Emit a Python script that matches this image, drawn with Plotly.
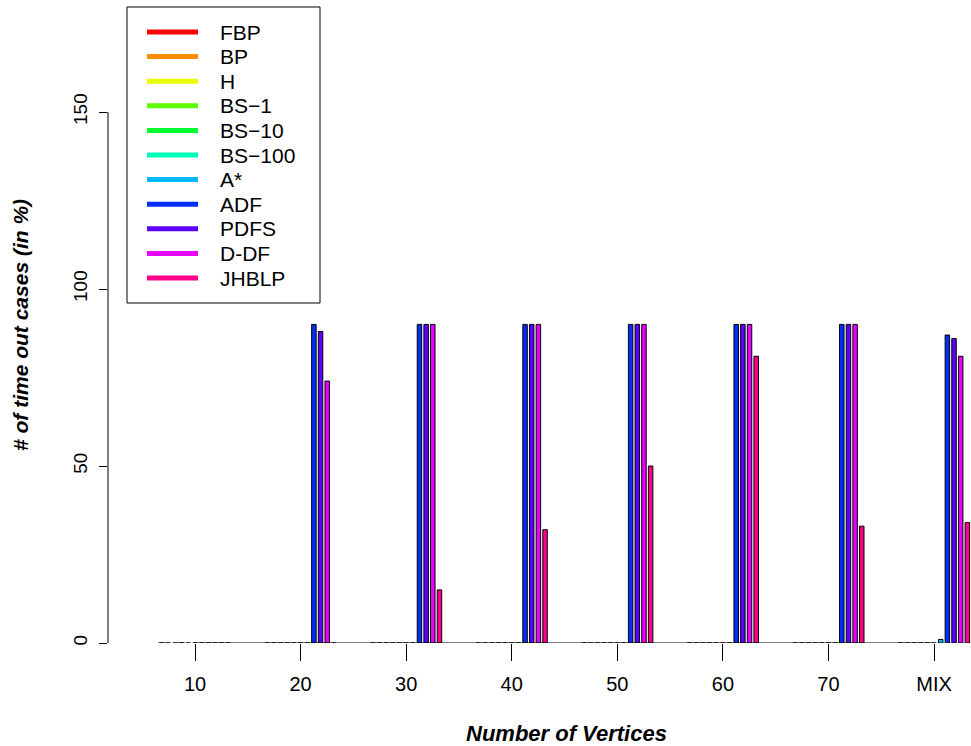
import plotly.graph_objects as go

categories = ["10", "20", "30", "40", "50", "60", "70", "MIX"]
series_names = ["FBP", "BP", "H", "BS−1", "BS−10", "BS−100", "A*", "ADF", "PDFS", "D-DF", "JHBLP"]
series_colors = ["#FF0000", "#FF8B00", "#E8FF00", "#5DFF00", "#00FF2E", "#00FFB9",
                 "#00B9FF", "#002EFF", "#5D00FF", "#E800FF", "#FF008B"]

FBP = [0, 0, 0, 0, 0, 0, 0, 0]
BP = [0, 0, 0, 0, 0, 0, 0, 0]
H = [0, 0, 0, 0, 0, 0, 0, 0]
BS1 = [0, 0, 0, 0, 0, 0, 0, 0]
BS10 = [0, 0, 0, 0, 0, 0, 0, 0]
BS100 = [0, 0, 0, 0, 0, 0, 0, 0]
ASTAR = [0, 0, 0, 0, 0, 0, 0, 1]
ADF = [0, 90, 90, 90, 90, 90, 90, 87]
PDFS = [0, 88, 90, 90, 90, 90, 90, 86]
DDF = [0, 74, 90, 90, 90, 90, 90, 81]
JHBLP = [0, 0, 15, 32, 50, 81, 33, 34]

series_values = [FBP, BP, H, BS1, BS10, BS100, ASTAR, ADF, PDFS, DDF, JHBLP]
y_ticks = [0, 50, 100, 150]

FONT = "Liberation Sans, Arial, Helvetica, sans-serif"
BARGAP = 0.306

W, H_ = 971, 746
ML, MB, MT, MR = 108, 103, 6, 0
PW, PH = W - ML - MR, H_ - MT - MB


def px(fx):
    return (fx - ML) / PW


def py(fy):
    return (MT + PH - fy) / PH


fig = go.Figure()
for name, color, vals in zip(series_names, series_colors, series_values):
    fig.add_trace(go.Bar(
        x=categories, y=vals, name=name, showlegend=False,
        marker=dict(color=color, line=dict(color="black", width=1)),
    ))

half_group = (1 - BARGAP) / 2

shapes = [
    dict(type="line", xref="paper", yref="y", x0=0, x1=0,
         y0=y_ticks[0], y1=y_ticks[-1], line=dict(color="black", width=1)),
    dict(type="line", xref="x", yref="y", x0=0, x1=len(categories) - 1,
         y0=0, y1=0, line=dict(color="black", width=1)),
    dict(type="line", xref="x", yref="y", x0=-half_group, x1=0,
         y0=0, y1=0, line=dict(color="black", width=1, dash="dash")),
]
annotations = [
    dict(text="<b><i>Number of Vertices</i></b>", xref="paper", yref="paper",
         x=px(566), y=py(733), xanchor="center", yanchor="middle",
         showarrow=False, font=dict(size=22)),
    dict(text="<b><i># of time out cases (in %)</i></b>", xref="paper", yref="paper",
         x=px(20), y=py(325), xanchor="center", yanchor="middle",
         textangle=-90, showarrow=False, font=dict(size=21)),
]

# legend box (lines + labels), laid out from a few constants
LEG_L, LEG_T, LEG_R, LEG_B = 127, 7, 320, 303
ROW0, ROW_STEP = 32, 24.6
LINE_X0, LINE_X1, TEXT_X = 147, 198, 218
shapes.append(dict(type="rect", xref="paper", yref="paper",
                   x0=px(LEG_L), x1=px(LEG_R), y0=py(LEG_B), y1=py(LEG_T),
                   line=dict(color="black", width=1), fillcolor="white", layer="above"))
for i, (name, color) in enumerate(zip(series_names, series_colors)):
    yy = ROW0 + ROW_STEP * i
    shapes.append(dict(type="line", xref="paper", yref="paper",
                       x0=px(LINE_X0), x1=px(LINE_X1), y0=py(yy), y1=py(yy),
                       line=dict(color=color, width=5), layer="above"))
    annotations.append(dict(text=name, xref="paper", yref="paper",
                            x=px(TEXT_X), y=py(yy), xanchor="left", yanchor="middle",
                            showarrow=False, font=dict(size=21)))

fig.update_layout(
    width=W, height=H_,
    margin=dict(l=ML, r=MR, t=MT, b=MB, autoexpand=False),
    paper_bgcolor="white", plot_bgcolor="white",
    barmode="group", bargap=BARGAP, bargroupgap=0.33,
    showlegend=False,
    font=dict(family=FONT, size=19, color="black"),
    xaxis=dict(
        type="category", categoryorder="array", categoryarray=categories,
        range=[-0.824, 7.35], showline=False, showgrid=False, zeroline=False,
        ticks="outside", ticklen=17, tickwidth=1, tickcolor="black",
        tickfont=dict(size=20), ticklabelstandoff=6,
    ),
    yaxis=dict(
        range=[0, PH / 3.54], tickvals=y_ticks, showline=False, showgrid=False,
        zeroline=False, ticks="outside", ticklen=8, tickwidth=1,
        tickcolor="black", tickangle=-90, tickfont=dict(size=19),
        ticklabelstandoff=4,
    ),
    shapes=shapes,
    annotations=annotations,
)

fig.write_html(
    "out.html",
    config={"displayModeBar": False},
    post_script="document.body.style.margin='0';document.body.style.overflow='hidden';",
)
